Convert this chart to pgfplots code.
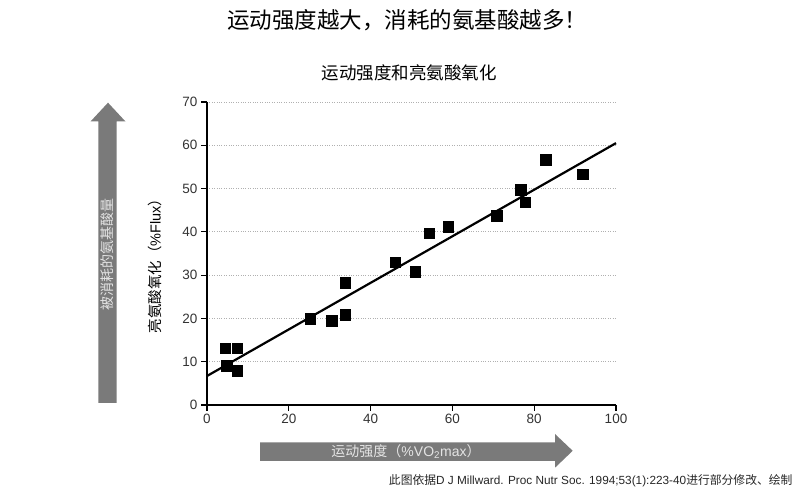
\documentclass[border=0pt]{standalone}
\usepackage{fontspec}
\setmainfont{Liberation Sans}
\newfontfamily\cjk{Noto Sans CJK SC}
\usepackage{pgfplots}
\pgfplotsset{compat=1.18}
\definecolor{arrowgray}{HTML}{7A7A7A}
\definecolor{arrowtext}{HTML}{E4E4E4}
\definecolor{gridgray}{HTML}{B0B0B0}
\begin{document}
\begin{tikzpicture}[x=1pt,y=1pt]
\path[use as bounding box] (0,0) rectangle (800,495);
% vertical arrow
\fill[arrowgray] (98.3,92) -- (98.3,373.5) -- (90.5,373.5) -- (108,392.3) -- (125.5,373.5) -- (116.7,373.5) -- (116.7,92) -- cycle;
\node[rotate=90, text=arrowtext, font=\cjk\fontsize{14}{14}\selectfont] at (107.5,240) {被消耗的氨基酸量};
% horizontal arrow
\fill[arrowgray] (260,34) -- (555,34) -- (555,27.3) -- (572.7,44.2) -- (555,61) -- (555,52.7) -- (260,52.7) -- cycle;
\node[text=arrowtext, font=\fontsize{14}{14}\selectfont] at (406,43.5) {{\cjk 运动强度（}\%VO\textsubscript{2}max{\cjk ）}};
% titles
\node[font=\cjk\fontsize{22.5}{22.5}\selectfont] at (407,475) {运动强度越大，消耗的氨基酸越多！};
\node[font=\cjk\fontsize{17.5}{17.5}\selectfont] at (409,422) {运动强度和亮氨酸氧化};
\node[anchor=east, font=\fontsize{11.8}{11.8}\selectfont, text=black!85] at (796,14) {{\cjk 此图依据}D J Millward. Proc Nutr Soc. 1994;53(1):223-40{\cjk 进行部分修改、绘制}};
\begin{axis}[
  at={(207pt,90pt)}, anchor=south west,
  width=409pt, height=303pt, scale only axis,
  xmin=0, xmax=100, ymin=0, ymax=70,
  axis lines=left,
  axis line style={-, line width=1.2pt, black},
  xtick={0,20,...,100}, ytick={0,10,...,70},
  tick align=outside, major tick length=6pt,
  tick style={black, line width=1.2pt},
  ymajorgrids,
  grid style={dotted, gridgray, line width=0.9pt},
  ticklabel style={font=\fontsize{13.5}{13.5}\selectfont, text=black!80},
  /pgf/number format/assume math mode=true,
  ylabel={{\cjk 亮氨酸氧化（}\%Flux{\cjk ）}},
  ylabel style={at={(axis description cs:-0.127,0.47)}, anchor=center, font=\fontsize{14.5}{14.5}\selectfont},
  clip=false,
]
\addplot[black, line width=2.2pt] coordinates {(0,6.7) (100,60.5)};
\addplot[only marks, mark=square*, mark size=5.2pt, black] coordinates {
(4.4,13.1) (7.4,13.1) (4.8,9.1) (7.4,7.9)
(25.2,19.9) (30.5,19.5) (33.8,20.9) (33.8,28.3)
(46.0,33.0) (50.9,30.8) (54.3,39.7) (58.9,41.2)
(70.8,43.7) (76.7,49.7) (77.8,46.8) (82.8,56.7) (91.9,53.3)
};
\end{axis}
\end{tikzpicture}
\end{document}
